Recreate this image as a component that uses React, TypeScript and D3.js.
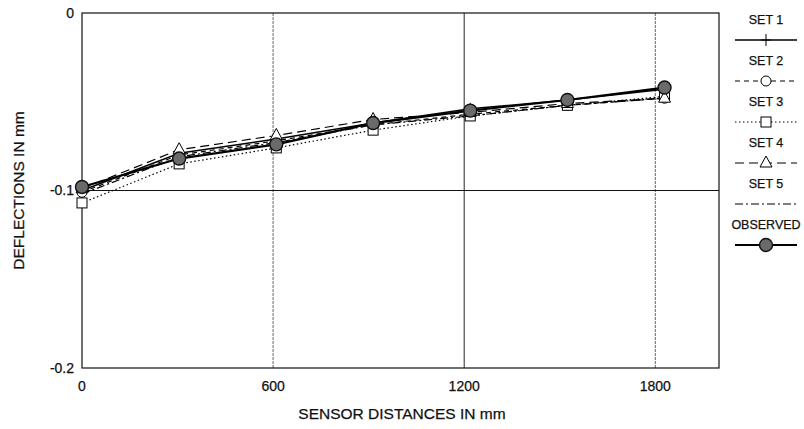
import React from 'react';
import * as d3 from 'd3';

// sensor offsets (mm) and deflections (mm)
const distances = [0, 305, 610, 914, 1219, 1524, 1829];
const set1 = [-0.100, -0.079, -0.071, -0.062, -0.054, -0.049, -0.043];
const set2 = [-0.101, -0.080, -0.072, -0.063, -0.057, -0.052, -0.048];
const set3 = [-0.107, -0.085, -0.076, -0.066, -0.058, -0.052, -0.047];
const set4 = [-0.099, -0.077, -0.069, -0.060, -0.056, -0.051, -0.048];
const set5 = [-0.102, -0.081, -0.073, -0.063, -0.058, -0.052, -0.048];
const observed = [-0.098, -0.082, -0.074, -0.062, -0.055, -0.049, -0.042];

const xTicks = [0, 600, 1200, 1800];
const yTicks = [0, -0.1, -0.2];
const yTickLabels = ['0', '-0.1', '-0.2'];
const seriesNames = ['SET 1', 'SET 2', 'SET 3', 'SET 4', 'SET 5', 'OBSERVED'];

type Marker = 'plus' | 'circle' | 'square' | 'triangle' | 'none' | 'dot';

interface ISeries {
  name: string;
  values: number[];
  dash: string;
  width: number;
  marker: Marker;
}

const series: ISeries[] = [
  { name: seriesNames[0], values: set1, dash: '', width: 1.5, marker: 'plus' },
  { name: seriesNames[1], values: set2, dash: '5,4', width: 1.2, marker: 'circle' },
  { name: seriesNames[2], values: set3, dash: '1.5,2.5', width: 1.2, marker: 'square' },
  { name: seriesNames[3], values: set4, dash: '9,5', width: 1.2, marker: 'triangle' },
  { name: seriesNames[4], values: set5, dash: '8,3,2,3', width: 1.2, marker: 'none' },
  { name: seriesNames[5], values: observed, dash: '', width: 2.2, marker: 'dot' }
];

const W = 804;
const H = 429;
const plot = { left: 82, right: 719, top: 13, bottom: 368 };
const font = '"Liberation Sans", Arial, sans-serif';

function drawMarker(kind: Marker, x: number, y: number, key: string) {
  switch (kind) {
    case 'plus':
      return (
        <g key={key} stroke="#000" strokeWidth={1}>
          <line x1={x - 5} y1={y} x2={x + 5} y2={y} />
          <line x1={x} y1={y - 6} x2={x} y2={y + 6} />
        </g>
      );
    case 'circle':
      return <circle key={key} cx={x} cy={y} r={5} fill="#fff" stroke="#000" strokeWidth={1} />;
    case 'square':
      return <rect key={key} x={x - 5} y={y - 5} width={10} height={10} fill="#fff" stroke="#000" strokeWidth={1} />;
    case 'triangle':
      return (
        <path key={key} d={`M${x},${y - 7}L${x + 6},${y + 4}L${x - 6},${y + 4}Z`} fill="#fff" stroke="#000" strokeWidth={1} />
      );
    case 'dot':
      return <circle key={key} cx={x} cy={y} r={6.5} fill="#6a6a6a" stroke="#111" strokeWidth={1.4} />;
    default:
      return null;
  }
}

export default function App() {
  const xScale = d3.scaleLinear().domain([0, 2000]).range([plot.left, plot.right]);
  const yScale = d3.scaleLinear().domain([0, -0.2]).range([plot.top, plot.bottom]);

  const line = d3
    .line<number>()
    .x((_d, i) => xScale(distances[i]))
    .y((d) => yScale(d));

  // legend layout
  const legX1 = 735;
  const legX2 = 797;
  const legMid = 766;
  const legStep = 41;

  return (
    <svg width={W} height={H} style={{ position: 'absolute', left: 0, top: 0, background: '#fff' }} fontFamily={font}>
      <rect x={0} y={0} width={W} height={H} fill="#fff" />

      {/* grid */}
      {xTicks.filter((t) => t > 0).map((t) => (
        <line key={'gx' + t} x1={xScale(t)} x2={xScale(t)} y1={plot.top} y2={plot.bottom}
          stroke={t === 1200 ? '#111' : '#555'} strokeWidth={0.9} strokeDasharray={t === 1200 ? undefined : '3,1'} />
      ))}
      <line x1={plot.left} x2={plot.right} y1={yScale(-0.1)} y2={yScale(-0.1)} stroke="#111" strokeWidth={1} />
      <rect x={plot.left} y={plot.top} width={plot.right - plot.left} height={plot.bottom - plot.top} fill="none" stroke="#111" strokeWidth={1.2} />

      {/* tick labels */}
      <g fill="#111" stroke="#111" strokeWidth={0.25}>
        {yTicks.map((t, i) => (
          <text key={'yt' + i} x={74} y={yScale(t)} dy="0.35em" textAnchor="end" fontSize={14}>
            {yTickLabels[i]}
          </text>
        ))}
        {xTicks.map((t) => (
          <text key={'xt' + t} x={xScale(t)} y={386} dy="0.35em" textAnchor="middle" fontSize={14}>
            {t}
          </text>
        ))}

        {/* axis titles */}
        <text x={402} y={414} dy="0.35em" textAnchor="middle" fontSize={15.5}>
          SENSOR DISTANCES IN mm
        </text>
        <text transform={`translate(19,${(plot.top + plot.bottom) / 2}) rotate(-90)`} textAnchor="middle" dy="0.35em" fontSize={15.5}>
          DEFLECTIONS IN mm
        </text>
      </g>

      {/* series */}
      {series.map((s) => (
        <path key={'l' + s.name} d={line(s.values)!} fill="none" stroke="#000" strokeWidth={s.width} strokeDasharray={s.dash || undefined} />
      ))}
      {series.map((s) =>
        s.values.map((v, i) => drawMarker(s.marker, xScale(distances[i]), yScale(v), s.name + i))
      )}

      {/* legend */}
      {series.map((s, i) => {
        const ty = 20 + i * legStep;
        const ly = 40 + i * legStep;
        return (
          <g key={'lg' + s.name}>
            <text x={legMid} y={ty} dy="0.35em" textAnchor="middle" fontSize={12.5} fill="#111" stroke="#111" strokeWidth={0.25}>
              {s.name}
            </text>
            <line x1={legX1} x2={legX2} y1={ly} y2={ly} stroke="#000" strokeWidth={s.width} strokeDasharray={s.dash || undefined} />
            {drawMarker(s.marker, legMid, ly, 'lm' + i)}
          </g>
        );
      })}
    </svg>
  );
}
